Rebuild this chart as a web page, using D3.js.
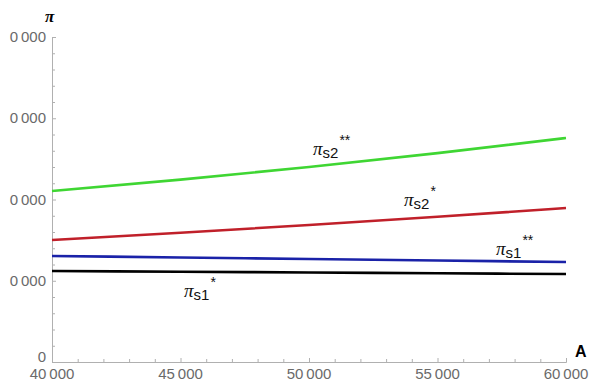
<!DOCTYPE html>
<html>
<head>
<meta charset="utf-8">
<script src="https://cdn.jsdelivr.net/npm/d3@7"></script>
<style>
  html, body { margin: 0; padding: 0; background: #fff; }
  svg { display: block; }
</style>
</head>
<body>
<svg id="chart" width="595" height="381"></svg>
<script>
// Parameter A on the horizontal axis
const aValues = [40000, 45000, 50000, 55000, 60000];
// Profit curves (in tick units of the vertical axis)
const piS2StarStar = [2.105, 2.245, 2.400, 2.571, 2.757];
const piS2Star     = [1.502, 1.591, 1.686, 1.788, 1.895];
const piS1StarStar = [1.305, 1.286, 1.268, 1.249, 1.231];
const piS1Star     = [1.120, 1.111, 1.102, 1.092, 1.083];
// Tick labels
const xTickValues = [40000, 45000, 50000, 55000, 60000];
const xTickLabels = ["40\u2009000", "45\u2009000", "50\u2009000", "55\u2009000", "60\u2009000"];
const yTickValues = [0, 1, 2, 3, 4];
const yTickLabels = ["0", "0\u2009000", "0\u2009000", "0\u2009000", "0\u2009000"];

const svg = d3.select("#chart");
const x = d3.scaleLinear().domain([40000, 60000]).range([52, 566]);
const y = d3.scaleLinear().domain([0, 4]).range([362, 37]);

const axisColor = "#b0b0b0";
const labelColor = "#6a6a6a";

// x axis with minor ticks every 1000
const xAxis = svg.append("g").attr("transform", `translate(0,${y(0)})`)
  .call(d3.axisBottom(x).tickValues(d3.range(40000, 60001, 1000)).tickSize(-3).tickFormat(""));
xAxis.select(".domain").attr("stroke", axisColor);
xAxis.selectAll(".tick line").attr("stroke", axisColor);
xAxis.selectAll(".tick").filter(d => d % 5000 === 0).select("line").attr("y2", -4);

svg.append("g").selectAll("text").data(xTickValues).join("text")
  .attr("x", d => x(d)).attr("y", 379)
  .attr("text-anchor", "middle")
  .attr("font-family", "Liberation Sans, Arial, sans-serif")
  .attr("font-size", 15).attr("fill", labelColor)
  .text((d, i) => xTickLabels[i]);

// y axis with minor ticks every 0.2
const yAxis = svg.append("g").attr("transform", `translate(${x(40000)},0)`)
  .call(d3.axisLeft(y).tickValues(d3.range(0, 20.01, 1).map(v => v / 5)).tickSize(-3).tickFormat(""));
yAxis.select(".domain").attr("stroke", axisColor);
yAxis.selectAll(".tick line").attr("stroke", axisColor);
yAxis.selectAll(".tick").filter(d => Math.abs(d - Math.round(d)) < 1e-9).select("line").attr("x2", 4);

svg.append("g").selectAll("text").data(yTickValues).join("text")
  .attr("x", 46).attr("y", d => d === 0 ? y(d) : y(d) + 5)
  .attr("text-anchor", "end")
  .attr("font-family", "Liberation Sans, Arial, sans-serif")
  .attr("font-size", 15).attr("fill", labelColor)
  .text((d, i) => yTickLabels[i]);

// axis titles
svg.append("text").attr("x", 45).attr("y", 22)
  .attr("font-family", "Liberation Serif, serif").attr("font-weight", "bold")
  .attr("font-style", "italic").attr("font-size", 17).text("π");
svg.append("text").attr("x", 575).attr("y", 357)
  .attr("font-family", "Liberation Sans, Arial, sans-serif").attr("font-weight", "bold")
  .attr("font-size", 16).text("A");

// curves
const series = [
  { vals: piS1Star,     color: "#000000" },
  { vals: piS1StarStar, color: "#1a22a8" },
  { vals: piS2Star,     color: "#c0202a" },
  { vals: piS2StarStar, color: "#3fd633" }
];
const line = d3.line().x(d => x(d[0])).y(d => y(d[1])).curve(d3.curveMonotoneX);
svg.append("g").selectAll("path").data(series).join("path")
  .attr("d", s => line(aValues.map((a, i) => [a, s.vals[i]])))
  .attr("fill", "none").attr("stroke", s => s.color).attr("stroke-width", 2.6);

// curve labels
const curveLabels = [
  { x: 313, y: 155, sub: "s2", sup: "**" },
  { x: 404, y: 206, sub: "s2", sup: "*" },
  { x: 496, y: 255, sub: "s1", sup: "**" },
  { x: 184, y: 297, sub: "s1", sup: "*" }
];
curveLabels.forEach(l => {
  const t = svg.append("text").attr("x", l.x).attr("y", l.y)
    .attr("font-family", "Liberation Serif, serif").attr("font-size", 19).attr("fill", "#111");
  t.append("tspan").attr("font-style", "italic").text("π");
  t.append("tspan").attr("font-family", "Liberation Sans, Arial, sans-serif")
    .attr("font-size", 15).attr("dy", 3).text(l.sub);
  t.append("tspan").attr("font-family", "Liberation Sans, Arial, sans-serif")
    .attr("font-size", 14).attr("dy", -13).attr("dx", 1).text(l.sup);
});
</script>
</body>
</html>
